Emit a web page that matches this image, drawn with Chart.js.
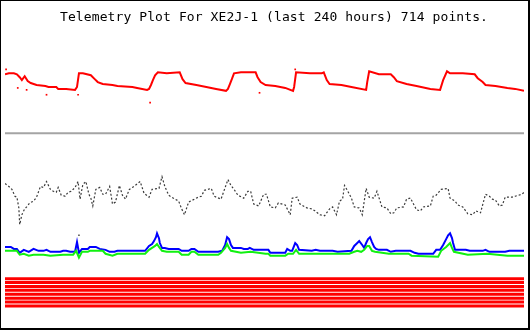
<!DOCTYPE html>
<html>
<head>
<meta charset="utf-8">
<script src="https://cdn.jsdelivr.net/npm/chart.js@4/dist/chart.umd.min.js"></script>
<style>
  body { margin: 0; background: #fff; }
  #frame {
    position: relative; width: 530px; height: 330px; box-sizing: border-box;
    border-style: solid; border-color: #000; border-width: 1px 2px 2px 1px;
  }
  #plot { display: block; }
  #title {
    position: absolute; left: 59px; top: 8px; white-space: pre;
    font: 13px "DejaVu Sans Mono", monospace; letter-spacing: 0.1px; color: #000;
  }
</style>
</head>
<body>
<div id="frame">
  <canvas id="plot" width="527" height="327"></canvas>
  <div id="title">Telemetry Plot For XE2J-1 (last 240 hours) 714 points.</div>
</div>
<script>
// x = hours into the 240 h window, y = channel level (arbitrary units, plot height 0..327)
const redTrace = [
  [0,256],[1.8,257],[4.1,257],[5.5,256],[6.8,253],[7.8,250],[9.1,254],[10.5,249],[11.9,247],
  [14.6,245],[18.7,244],[20.1,243],[23.7,243],[24.6,241],[28.3,241],[32.4,240],[33.3,243],
  [34.2,257],[36,257],[39.7,255],[41.5,251],[42.9,248],[45.2,246],[49.7,245],[52,244],
  [58.9,243],[61.1,242],[65.7,240],[66.6,241],[67.5,245],[68.4,250],[69.4,255],[70.7,258],
  [74.8,257],[80.8,258],[82.1,251],[83.5,247],[88.5,245],[93.1,243],[97.6,241],[102.2,239],
  [103.1,241],[104,246],[104.9,251],[105.9,257],[109.1,258],[115.9,258],[116.8,253],[118.2,248],
  [120.5,245],[125,244],[129.6,242],[133.2,239],[133.7,243],[134.6,258],[141,257],[146.5,257],
  [147.4,258],[148.8,250],[150.1,246],[155.6,245],[160.2,243],[167,240],[167.5,248],[168.4,259],
  [172.9,256],[178.4,256],[179.8,253],[181.2,249],[185.7,246],[190.3,244],[196.7,241],[201.2,240],
  [202.6,250],[204.4,259],[205.8,257],[211.7,257],[217.2,256],[218.6,252],[220.9,248],[222.2,245],
  [226.8,244],[232.3,242],[235.9,241],[240,239]
];
const redStray = [
  [0.5,261],[5.9,242],[10,240],[19.2,235],[33.8,235],[67.1,227],[117.7,237],[134.2,261]
];
const blackTrace = [
  [0,144],[1.8,141],[3.2,138],[4.6,131],[5.5,130],[6.4,119],[6.8,102],[7.8,112],[9.1,118],
  [10,120],[11.4,124],[13.2,126],[14.6,130],[16.4,141],[17.8,140],[19.2,146],[21,138],[22.4,136],
  [23.7,135],[24.6,140],[26,132],[27.8,131],[29.2,135],[30.6,136],[32.4,140],[33.8,146],[34.7,128],
  [36,143],[37.4,146],[38.8,133],[39.7,129],[40.6,121],[42,138],[43.8,140],[45.2,133],[46.5,133],
  [48.4,141],[49.7,123],[51.1,125],[52.9,142],[54.3,132],[55.7,128],[57.5,138],[58.9,140],
  [60.2,142],[62.5,146],[64.3,134],[66.6,130],[68,138],[71.2,139],[72.6,151],[73.9,141],[75.7,132],
  [77.1,130],[80.3,126],[81.7,118],[83,112],[84.9,125],[87.6,128],[89.4,130],[90.8,131],[92.2,137],
  [95.4,139],[96.7,131],[99.9,128],[103.1,148],[104.5,142],[105.9,138],[107.7,132],[110.4,129],
  [112.3,136],[113.6,136],[115,123],[117.3,121],[119.6,133],[120.9,133],[122.7,120],[125,119],
  [126.4,124],[129.6,122],[131.9,112],[132.8,129],[135.1,130],[136.4,123],[139.6,119],[141.9,118],
  [143.3,116],[145.6,112],[147.8,111],[150.1,118],[151.5,120],[153.3,112],[154.7,126],[156.1,128],
  [157,142],[158.3,137],[160.2,129],[161.5,120],[163.8,119],[165.2,112],[167,139],[168.4,130],
  [170.7,129],[172,136],[174.3,120],[176.6,119],[178.4,113],[179.8,114],[181.2,119],[184.3,120],
  [185.7,128],[187.5,129],[188.9,123],[190.3,117],[192.1,116],[193.5,120],[196.7,121],[198,131],
  [199.4,132],[201.7,138],[204.9,139],[205.8,129],[208.1,126],[209.4,122],[211.7,120],[214,113],
  [216.3,112],[217.7,116],[219.9,114],[222.2,133],[224,131],[225.4,128],[226.8,127],[228.6,121],
  [230,122],[231.3,130],[234.5,130],[235.9,131],[239.1,133],[240,135]
];
const blackStray = [[34.2,91]];
const blueTrace = [
  [0,79],[2.7,79],[4.1,77],[5.5,77],[6.8,73],[8.7,76],[11,74],[13.2,77],[15.5,75],[17.8,75],
  [19.2,76],[21,74],[25.6,74],[26.9,75],[28.3,75],[30.1,74],[32.4,74],[33.3,84],[34.2,73],
  [35.6,77],[38.3,77],[39.2,79],[42,79],[43.8,77],[46.5,76],[48.4,74],[50.6,74],[52,75],[64.8,75],
  [66.6,80],[68,82],[68.9,85],[69.8,89],[70.3,93],[71.2,88],[71.6,83],[72.6,78],[73.9,78],
  [75.7,77],[80.3,77],[81.7,75],[84.9,75],[86.2,77],[87.6,77],[89.4,74],[98.6,74],[100.4,75],
  [101.8,81],[102.7,89],[103.6,87],[104.5,81],[105.4,78],[109.1,78],[110.4,77],[112.3,77],
  [113.2,78],[115,76],[120.5,76],[121.8,76],[122.7,73],[129.6,73],[130.5,77],[131.9,75],[132.8,75],
  [134.2,83],[135.1,81],[136,76],[141.9,75],[143.7,76],[145.6,75],[151.5,75],[153.8,74],[160.2,75],
  [161.5,80],[162.9,83],[163.8,85],[165.2,81],[166.1,78],[167,83],[167.9,87],[168.8,89],[169.7,84],
  [170.7,79],[171.6,77],[172.9,76],[176.6,76],[178.4,74],[180.7,75],[187.5,75],[189.4,73],
  [191.2,72],[198,72],[199.4,76],[201.2,76],[202.6,81],[204,87],[204.9,91],[205.8,93],[206.7,88],
  [207.2,83],[208.1,76],[213.1,76],[214.9,75],[220.9,75],[222.2,76],[224,74],[231.3,74],
  [233.2,75],[240,75]
];
const greenTrace = [
  [0,75],[5.5,75],[6.8,71],[8.7,72],[11,70],[13.2,71],[17.8,71],[21,70],[26.9,71],[31.5,71],
  [32.9,75],[34.2,68],[35.6,74],[38.3,74],[39.2,75],[45.2,75],[46.5,72],[49.7,70],[52,72],
  [64.8,72],[66.6,76],[68,78],[69.4,80],[70.3,82],[71.2,79],[72.6,75],[74.8,74],[80.3,74],
  [81.7,71],[84.9,71],[86.2,74],[87.6,74],[89.4,71],[98.6,71],[99.9,73],[101.8,78],[102.7,82],
  [103.6,78],[104.5,75],[109.1,73],[113.6,74],[120.5,72],[121.8,72],[122.7,70],[129.6,70],
  [131,72],[133.2,72],[134.6,76],[136,72],[145.6,72],[159.2,72],[161.5,74],[162.9,75],[164.7,74],
  [166.1,76],[167.5,80],[168.4,80],[169.7,75],[171.1,74],[177.5,72],[186.6,72],[188,70],
  [200.3,69],[201.7,75],[204,79],[205.8,83],[206.7,78],[207.6,74],[214,71],[223.1,72],[232.3,70],
  [240,70]
];
// flat channels
const grayLevel = 195.5;
const stripeLevels = [46.5, 42.5, 38.5, 34.5, 30.5, 26.5, 22.5, 18.5];
const hourRange = [0, 240];

const pts = arr => arr.map(([x, y]) => ({ x, y }));
const flat = lvl => hourRange.map(x => ({ x, y: lvl }));

const datasets = [
  { data: flat(grayLevel), borderColor: '#a4a4a4', borderWidth: 2 },
  ...stripeLevels.map(lvl => ({ data: flat(lvl), borderColor: '#ff0000', borderWidth: 3 })),
  { data: pts(greenTrace), borderColor: '#11f011', borderWidth: 2 },
  { data: pts(blueTrace), borderColor: '#0000ff', borderWidth: 2 },
  { data: pts(blackTrace), borderColor: '#3a3a3a', borderWidth: 1.2, borderDash: [2, 2] },
  { data: pts(blackStray), showLine: false, pointRadius: 1, pointStyle: 'rect', backgroundColor: '#3a3a3a', borderWidth: 0 },
  { data: pts(redTrace), borderColor: '#ff0000', borderWidth: 2 },
  { data: pts(redStray), showLine: false, pointRadius: 1.2, pointStyle: 'rect', backgroundColor: '#ff0000', borderWidth: 0 }
];

new Chart(document.getElementById('plot'), {
  type: 'line',
  data: { datasets },
  options: {
    responsive: false,
    animation: false,
    devicePixelRatio: 1,
    layout: { padding: 0 },
    elements: { point: { radius: 0 }, line: { tension: 0 } },
    scales: {
      x: { type: 'linear', min: hourRange[0], max: hourRange[1], display: false },
      y: { min: 0, max: 327, display: false }
    },
    plugins: { legend: { display: false }, tooltip: { enabled: false } }
  }
});
</script>
</body>
</html>
